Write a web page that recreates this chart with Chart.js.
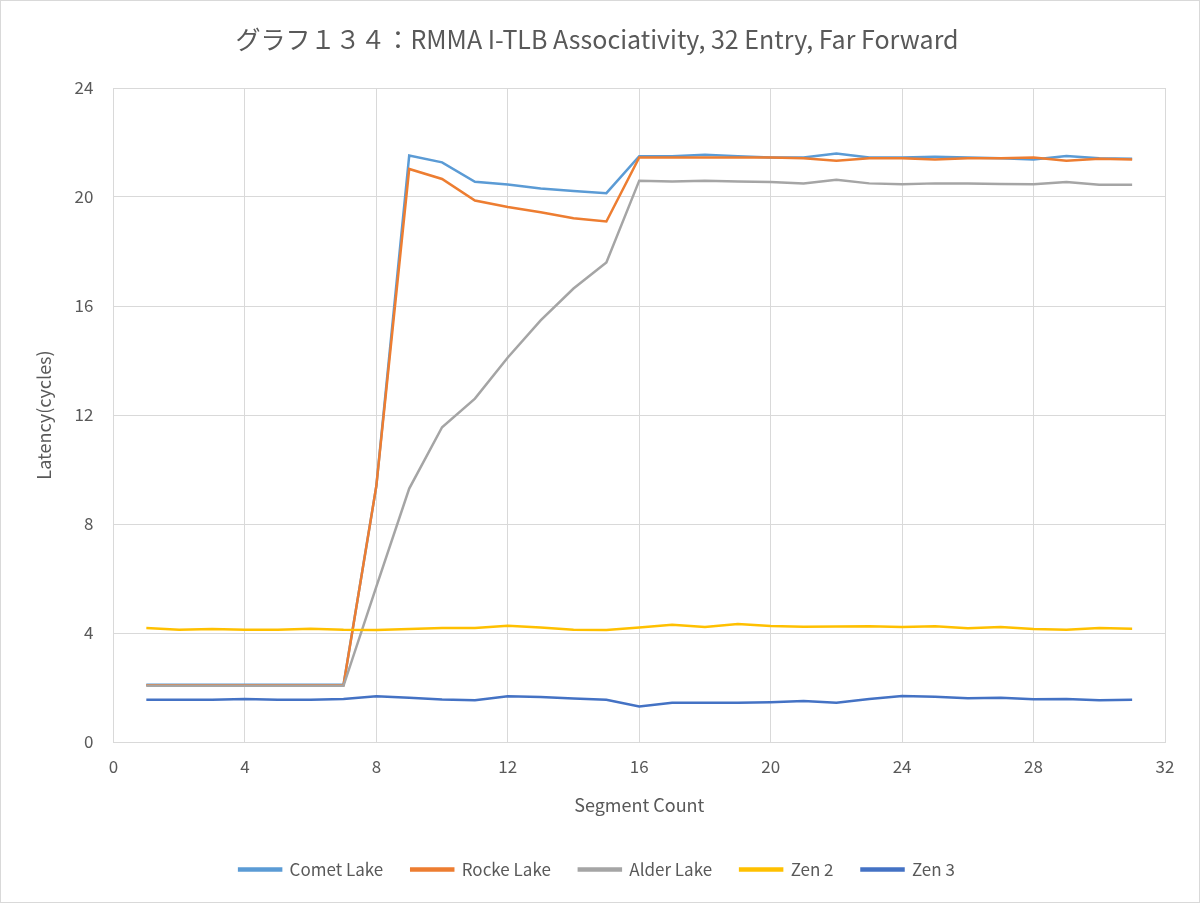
<!DOCTYPE html>
<html>
<head>
<meta charset="utf-8">
<script src="https://cdn.jsdelivr.net/npm/chart.js@4/dist/chart.umd.min.js"></script>
<style>
  body { margin: 0; background: #fff; }
  #wrap { width: 1200px; height: 903px; box-sizing: border-box; border: 1px solid #d9d9d9; }
</style>
</head>
<body>
<div id="wrap"><canvas id="c"></canvas></div>
<script>
const segments = [1, 2, 3, 4, 5, 6, 7, 8, 9, 10, 11, 12, 13, 14, 15, 16,
  17, 18, 19, 20, 21, 22, 23, 24, 25, 26, 27, 28, 29, 30, 31];

const cometLake = [2.1, 2.1, 2.1, 2.1, 2.1, 2.1, 2.1, 9.4, 21.52, 21.27, 20.56, 20.46, 20.31, 20.22, 20.14, 21.5,
  21.5, 21.55, 21.5, 21.45, 21.45, 21.6, 21.45, 21.45, 21.48, 21.45, 21.42, 21.38, 21.5, 21.42, 21.4];
const rockeLake = [2.08, 2.08, 2.08, 2.08, 2.08, 2.08, 2.08, 9.4, 21.03, 20.66, 19.87, 19.63, 19.44, 19.22, 19.1, 21.45,
  21.45, 21.45, 21.45, 21.45, 21.42, 21.33, 21.42, 21.42, 21.38, 21.42, 21.42, 21.45, 21.33, 21.4, 21.38];
const alderLake = [2.06, 2.06, 2.06, 2.06, 2.06, 2.06, 2.06, 5.7, 9.3, 11.55, 12.6, 14.11, 15.47, 16.64, 17.6, 20.6,
  20.57, 20.6, 20.57, 20.55, 20.5, 20.63, 20.5, 20.47, 20.5, 20.5, 20.48, 20.47, 20.55, 20.45, 20.45];
const zen2 = [4.18, 4.12, 4.15, 4.12, 4.12, 4.16, 4.12, 4.11, 4.15, 4.18, 4.18, 4.27, 4.2, 4.12, 4.11, 4.2,
  4.3, 4.22, 4.33, 4.26, 4.23, 4.24, 4.25, 4.22, 4.25, 4.17, 4.22, 4.15, 4.12, 4.18, 4.16];
const zen3 = [1.55, 1.55, 1.55, 1.58, 1.55, 1.55, 1.58, 1.68, 1.62, 1.56, 1.53, 1.68, 1.65, 1.6, 1.55, 1.3,
  1.44, 1.44, 1.44, 1.46, 1.5, 1.44, 1.58, 1.69, 1.66, 1.61, 1.62, 1.57, 1.58, 1.53, 1.55];

const seriesNames = ["Comet Lake", "Rocke Lake", "Alder Lake", "Zen 2", "Zen 3"];
const seriesValues = [cometLake, rockeLake, alderLake, zen2, zen3];
const seriesColors = ["#5B9BD5", "#ED7D31", "#A5A5A5", "#FFC000", "#4472C4"];

const font = "'Noto Sans CJK JP', 'Noto Sans', sans-serif";
const textColor = "#595959";
const gridColor = "#d9d9d9";

const datasets = seriesValues.map((vals, i) => ({
  label: seriesNames[i],
  data: vals.map((v, j) => ({ x: segments[j], y: v })),
  borderColor: seriesColors[i],
  backgroundColor: seriesColors[i],
  borderWidth: 2.5,
  pointRadius: 0,
  tension: 0,
  order: seriesNames.length - i, // later series drawn on top
}));

new Chart(document.getElementById("c"), {
  type: "line",
  data: { datasets: datasets },
  options: {
    responsive: true,
    maintainAspectRatio: false,
    animation: { duration: 0 },
    layout: { padding: { left: 28, right: 34, top: 23, bottom: 14 } },
    scales: {
      x: {
        type: "linear",
        min: 0,
        max: 32,
        ticks: { stepSize: 4, color: textColor, font: { family: font, size: 17 }, padding: 14 },
        grid: { color: gridColor, lineWidth: 1, drawTicks: false },
        border: { color: gridColor },
        title: { display: true, text: "Segment Count", color: textColor, font: { family: font, size: 18 }, padding: { top: 4, bottom: 17 } },
      },
      y: {
        min: 0,
        max: 24,
        ticks: { stepSize: 4, color: textColor, font: { family: font, size: 17 }, padding: 20 },
        grid: { color: gridColor, lineWidth: 1, drawTicks: false },
        border: { display: false },
        title: { display: true, text: "Latency(cycles)", color: textColor, font: { family: font, size: 18 }, padding: { bottom: 0 } },
      },
    },
    plugins: {
      title: {
        display: true,
        text: "グラフ１３４：RMMA I-TLB Associativity, 32 Entry, Far Forward",
        color: textColor,
        font: { family: font, size: 25, weight: "normal" },
        padding: { bottom: 34 },
      },
      legend: {
        position: "bottom",
        labels: {
          color: textColor,
          font: { family: font, size: 17 },
          boxWidth: 42,
          boxHeight: 2,
          padding: 28,
          sort: (a, b) => a.datasetIndex - b.datasetIndex,
        },
      },
      tooltip: { enabled: false },
    },
  },
});
</script>
</body>
</html>
